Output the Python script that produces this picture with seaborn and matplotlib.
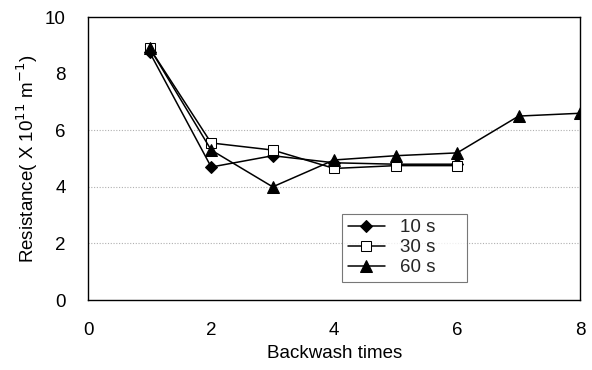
import matplotlib
matplotlib.use("Agg")
import matplotlib.pyplot as plt
import seaborn as sns
import pandas as pd

x10 = [1, 2, 3, 4, 5, 6]
y10 = [8.75, 4.7, 5.1, 4.85, 4.8, 4.8]
x30 = [1, 2, 3, 4, 5, 6]
y30 = [8.9, 5.55, 5.3, 4.65, 4.75, 4.75]
x60 = [1, 2, 3, 4, 5, 6, 7, 8]
y60 = [8.9, 5.3, 4.0, 4.95, 5.1, 5.2, 6.5, 6.6]
labels = ["10 s", "30 s", "60 s"]

df = pd.concat([
    pd.DataFrame({"x": x10, "y": y10, "s": labels[0]}),
    pd.DataFrame({"x": x30, "y": y30, "s": labels[1]}),
    pd.DataFrame({"x": x60, "y": y60, "s": labels[2]}),
])

sns.set_theme(style="white")
plt.rcParams["font.family"] = ["Liberation Sans", "DejaVu Sans"]

fig = plt.figure(figsize=(5.92, 3.7), dpi=100)
ax = fig.add_axes([0.149, 0.189, 0.831, 0.765])

for y in [2, 4, 6]:
    ax.axhline(y, color="#b0b0b0", lw=0.8, ls=(0, (1, 1.5)), zorder=0)

styles = {
    "10 s": dict(marker="D", mfc="black", ms=6),
    "30 s": dict(marker="s", mfc="white", ms=7),
    "60 s": dict(marker="^", mfc="black", ms=8),
}
for lab in labels:
    sub = df[df.s == lab]
    sns.lineplot(data=sub, x="x", y="y", ax=ax, color="black", lw=1.1,
                 label=lab, mec="black", **styles[lab])

ax.set_xlim(0, 8)
ax.set_ylim(0, 10)
ax.set_xticks([0, 2, 4, 6, 8])
ax.set_yticks([0, 2, 4, 6, 8, 10])
ax.tick_params(axis="both", labelsize=13.5, length=0, colors="black")
ax.tick_params(axis="x", pad=16)
ax.tick_params(axis="y", pad=16)
for sp in ax.spines.values():
    sp.set_color("black")
    sp.set_linewidth(1.0)
ax.set_xlabel("Backwash times", fontsize=13.5, color="black", labelpad=4)
ax.set_ylabel("Resistance( X 10$^{11}$ m$^{-1}$)", fontsize=13.5, color="black", labelpad=4)

leg = ax.legend(loc="lower left", bbox_to_anchor=(0.516, 0.064, 0.254, 0.316),
                mode="expand", fontsize=13.5, frameon=True, fancybox=False,
                handlelength=2.0, borderaxespad=0, labelspacing=0.15,
                borderpad=0.3)
leg.get_frame().set_edgecolor("#555555")
leg.get_frame().set_linewidth(0.8)

fig.savefig("out.png", dpi=100)
